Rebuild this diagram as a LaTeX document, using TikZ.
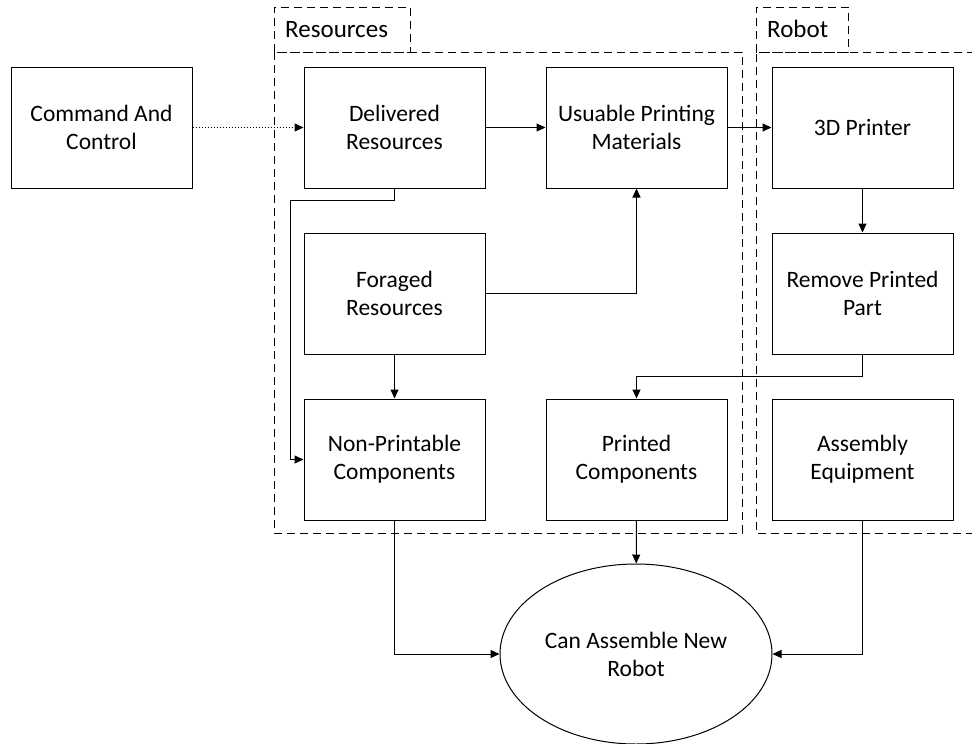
\documentclass[tikz,border=0pt]{standalone}
\usepackage{fontspec}
\setmainfont{Carlito}
\usetikzlibrary{shapes.geometric,arrows.meta}
\begin{document}
\begin{tikzpicture}[x=1pt,y=-1pt,
  every node/.style={font=\fontsize{23.5}{28}\selectfont},
  block/.style={draw,line width=1pt,minimum width=181pt,minimum height=121pt,
    inner sep=0pt,align=center},
  goalshape/.style={draw,line width=1pt,ellipse,minimum width=272pt,
    minimum height=180pt,inner sep=0pt,align=center},
  group/.style={draw,line width=0.9pt,dash pattern=on 8pt off 5pt},
  grouplabel/.style={anchor=base west,inner sep=0pt,font=\fontsize{25}{30}\selectfont},
  arr/.style={line width=1pt,-{Triangle[length=9pt,width=8pt]}},
  dotarr/.style={arr,dash pattern=on 1.5pt off 1.5pt}]
\useasboundingbox (0,0) rectangle (972,744);

% group frames
\draw[group] (274,52) rectangle (410,7);
\draw[group] (274,52) rectangle (742,533);
\draw[group] (756,52) rectangle (848,7);
\draw[group] (975,52) -- (756,52) -- (756,533) -- (975,533);
\node[grouplabel] (lres) at (285,37) {Resources};
\node[grouplabel] (lrob) at (767,37) {Robot};

% process blocks
\node[block] (cmd) at (101.5,127.5) {Command And\\Control};
\node[block] (del) at (394.5,127.5) {Delivered\\Resources};
\node[block] (usa) at (636.5,127.5) {Usuable Printing\\Materials};
\node[block] (prn) at (862.5,127.5) {3D Printer};
\node[block] (for) at (394.5,293.5) {Foraged\\Resources};
\node[block] (rem) at (862.5,293.5) {Remove Printed\\Part};
\node[block] (non) at (394.5,459.5) {Non-Printable\\Components};
\node[block] (pco) at (636.5,459.5) {Printed\\Components};
\node[block] (asm) at (862.5,459.5) {Assembly\\Equipment};
\node[goalshape] (goal) at (636,654) {Can Assemble New\\Robot};

% connectors
\coordinate (dj) at (290,200);
\coordinate (rj) at (862.5,376);
\draw[dotarr] (cmd) -- (del);
\draw[arr] (del) -- (usa);
\draw[arr] (usa) -- (prn);
\draw[arr] (prn) -- (rem);
\draw[arr] (del.south) |- (dj) |- (non.west);
\draw[arr] (for.east) -| (usa.south);
\draw[arr] (for) -- (non);
\draw[arr] (rem.south) -- (rj) -| (pco.north);
\draw[arr] (pco) -- (goal);
\draw[arr] (non.south) |- (goal.west);
\draw[arr] (asm.south) |- (goal.east);
\end{tikzpicture}
\end{document}
